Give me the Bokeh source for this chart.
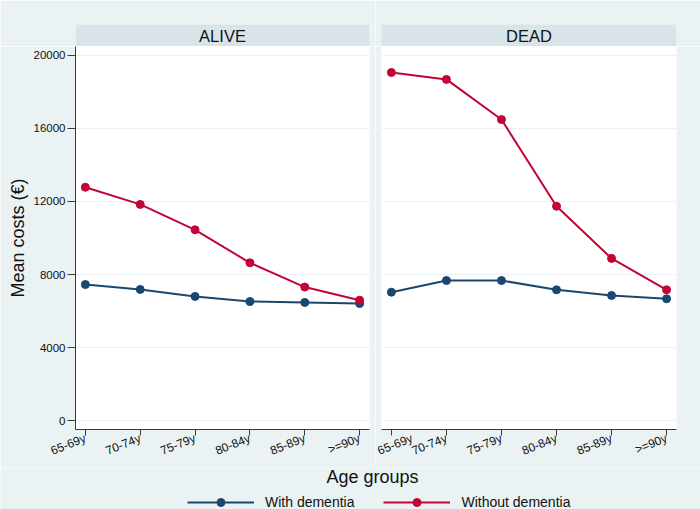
from bokeh.plotting import figure
from bokeh.layouts import column, row
from bokeh.models import Range1d, FixedTicker, Grid, Legend, LegendItem, Label
from bokeh.embed import file_html
from bokeh.resources import INLINE
import math

# ---------------- data ----------------
age_groups = ["65-69y", "70-74y", "75-79y", "80-84y", "85-89y", ">=90y"]
alive_with = [7450, 7180, 6800, 6520, 6470, 6410]
alive_without = [12780, 11840, 10450, 8640, 7310, 6590]
dead_with = [7030, 7670, 7670, 7160, 6850, 6670]
dead_without = [19070, 18690, 16490, 11740, 8880, 7160]
y_ticks = [0, 4000, 8000, 12000, 16000, 20000]
panel_titles = ["ALIVE", "DEAD"]
series_labels = ["With dementia", "Without dementia"]

# ---------------- style ----------------
BG = "#EAF2F3"
STRIP = "#D8E4EA"
GRID = "#EAF2F3"
NAVY = "#1A476F"
CRAN = "#C10534"
AXIS = "#3a3a3a"
TXT = "#111111"
FONT = "Liberation Sans"

xs = list(range(len(age_groups)))


def make_panel(title, with_vals, without_vals, show_y, mb_left, mb_right, fw):
    strip = figure(frame_width=fw, frame_height=22,
                   min_border_left=mb_left, min_border_right=mb_right,
                   min_border_top=24, min_border_bottom=0,
                   x_range=Range1d(0, 1), y_range=Range1d(0, 1),
                   x_axis_location=None, y_axis_location=None,
                   toolbar_location=None, output_backend="svg",
                   background_fill_color=STRIP, border_fill_color=BG,
                   outline_line_color=None)
    strip.grid.visible = False
    strip.add_layout(Label(x=0.5, y=0.5, text=title, text_align="center",
                           text_baseline="middle", text_font=FONT,
                           text_font_size="16.5px", text_color=TXT))

    p = figure(frame_width=fw, frame_height=383,
               min_border_left=mb_left, min_border_right=mb_right,
               min_border_top=0, min_border_bottom=33,
               x_range=Range1d(-0.18, 5.18), y_range=Range1d(-493, 20493),
               y_axis_location="left" if show_y else None,
               toolbar_location=None, output_backend="svg",
               background_fill_color="white", border_fill_color=BG,
               outline_line_color=None)
    p.grid.visible = False

    xa = p.xaxis[0]
    xa.ticker = FixedTicker(ticks=xs)
    xa.major_label_overrides = {i: lab for i, lab in enumerate(age_groups)}
    xa.major_label_orientation = math.radians(22)
    xa.major_label_text_font = FONT
    xa.major_label_text_font_size = "12px"
    xa.major_label_text_color = TXT
    xa.major_label_standoff = 2
    xa.major_tick_out = 6
    xa.major_tick_in = 0
    xa.minor_tick_line_color = None
    xa.axis_line_color = AXIS
    xa.major_tick_line_color = AXIS

    if show_y:
        ya = p.yaxis[0]
        ya.ticker = FixedTicker(ticks=y_ticks)
        ya.major_label_text_font = FONT
        ya.major_label_text_font_size = "11.5px"
        ya.major_label_text_color = TXT
        ya.major_label_standoff = 2
        ya.major_tick_out = 8
        ya.major_tick_in = 0
        ya.minor_tick_line_color = None
        ya.axis_line_color = AXIS
        ya.major_tick_line_color = AXIS
        ya.axis_label = "Mean costs (€)"
        ya.axis_label_text_font = FONT
        ya.axis_label_text_font_size = "18px"
        ya.axis_label_text_font_style = "normal"
        ya.axis_label_text_color = TXT
        ya.axis_label_standoff = 3

    p.add_layout(Grid(dimension=1, ticker=FixedTicker(ticks=y_ticks),
                      grid_line_color=GRID, grid_line_width=1.2))

    p.line(xs, with_vals, line_color=NAVY, line_width=2)
    p.scatter(xs, with_vals, color=NAVY, size=8)
    p.line(xs, without_vals, line_color=CRAN, line_width=2)
    p.scatter(xs, without_vals, color=CRAN, size=8)
    return column(strip, p, spacing=0)


left = make_panel(panel_titles[0], alive_with, alive_without, True, 75, 6, 294)
right = make_panel(panel_titles[1], dead_with, dead_without, False, 6, 24, 295)

footer = figure(width=700, height=47, min_border=0,
                x_range=Range1d(0, 700), y_range=Range1d(0, 47),
                x_axis_location=None, y_axis_location=None,
                toolbar_location=None, output_backend="svg",
                background_fill_color=BG, border_fill_color=BG,
                outline_line_color=None)
footer.grid.visible = False
footer.add_layout(Label(x=372, y=38, text="Age groups", text_align="center",
                        text_baseline="middle", text_font=FONT,
                        text_font_size="18px", text_color=TXT))
nan = float("nan")
r1l = footer.line(x=[nan], y=[nan], line_color=NAVY, line_width=2)
r1s = footer.scatter(x=[nan], y=[nan], color=NAVY, size=8)
r2l = footer.line(x=[nan], y=[nan], line_color=CRAN, line_width=2)
r2s = footer.scatter(x=[nan], y=[nan], color=CRAN, size=8)
legend = Legend(items=[LegendItem(label=series_labels[0], renderers=[r1l, r1s]),
                       LegendItem(label=series_labels[1], renderers=[r2l, r2s])],
                orientation="horizontal", location=(187, 2),
                glyph_width=67, glyph_height=20, label_height=20,
                label_standoff=11, spacing=29, padding=0, margin=0,
                border_line_color=None, background_fill_alpha=0,
                label_text_font=FONT, label_text_font_size="14px",
                label_text_color=TXT)
footer.add_layout(legend)

layout = column(row(left, right, spacing=0), footer, spacing=0)

with open("out.html", "w") as f:
    f.write(file_html(layout, INLINE))
